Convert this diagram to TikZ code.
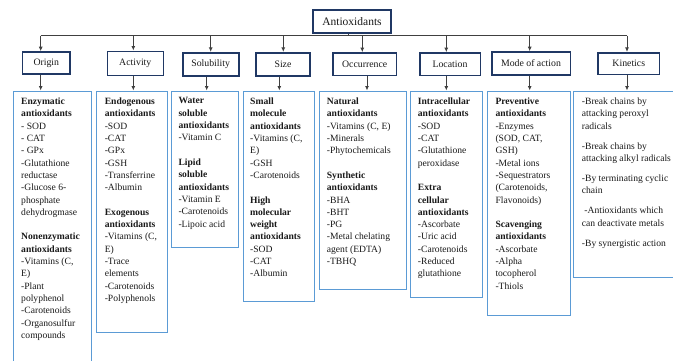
\documentclass[tikz,border=0pt]{standalone}
\usepackage{fontspec}
\setmainfont{Liberation Serif}
\usetikzlibrary{arrows.meta}
\definecolor{navy}{HTML}{203864}
\definecolor{lblue}{HTML}{5B9BD5}
\definecolor{conncol}{HTML}{404040}
\definecolor{ink}{HTML}{1A1A1A}
\begin{document}
\begin{tikzpicture}[x=1pt,y=-1pt,
  catbox/.style={draw=navy, line width=1.6pt, fill=white, inner sep=0pt, font=\fontsize{9.8}{11}\selectfont, text=ink},
  cbox/.style={draw=lblue, line width=1.2pt, inner sep=0pt, anchor=north west},
  txt/.style={inner sep=0pt, anchor=north west, align=left, font=\fontsize{9.6}{12.33}\selectfont, text=ink},
  connline/.style={draw=conncol, line width=0.9pt},
  arr/.style={connline, -{Latex[length=4.5pt,width=4pt]}}]
\useasboundingbox (0,0) rectangle (673,360);
\clip (0,0) rectangle (673,360);
\fill[white] (0,0) rectangle (673,360);

% title and categories
\node[catbox, font=\fontsize{11.5}{13}\selectfont, minimum width=78pt, minimum height=23pt] (title) at (352,21.5) {Antioxidants};
\node[catbox, minimum width=47.3pt, minimum height=22pt] (origin) at (46.3,63) {Origin};
\node[catbox, minimum width=56pt, minimum height=24pt] (activity) at (135.3,63.3) {Activity};
\node[catbox, minimum width=56pt, minimum height=23pt] (solubility) at (210.7,64.2) {Solubility};
\node[catbox, minimum width=54pt, minimum height=23pt] (size) at (283,64.2) {Size};
\node[catbox, minimum width=63.3pt, minimum height=22.7pt] (occurrence) at (364.7,64.3) {Occurrence};
\node[catbox, minimum width=60.6pt, minimum height=22.7pt] (location) at (450,64.3) {Location};
\node[catbox, minimum width=78.6pt, minimum height=23pt] (mode) at (531,63.5) {Mode of action};
\node[catbox, minimum width=61.7pt, minimum height=21.6pt] (kinetics) at (628.8,63.5) {Kinetics};

% content boxes
\node[cbox, minimum width=78pt, minimum height=280pt] (c1) at (12.7,90.5) {};
\node[cbox, minimum width=70.7pt, minimum height=241.5pt] (c2) at (96,90.5) {};
\node[cbox, minimum width=67.3pt, minimum height=156.5pt] (c3) at (170.7,90.5) {};
\node[cbox, minimum width=71.3pt, minimum height=210.5pt] (c4) at (242.7,90.5) {};
\node[cbox, minimum width=86.7pt, minimum height=198.5pt] (c5) at (319,90.5) {};
\node[cbox, minimum width=72pt, minimum height=206.5pt] (c6) at (410,90.5) {};
\node[cbox, minimum width=82.5pt, minimum height=224.5pt] (c7) at (487,90.5) {};
\node[cbox, minimum width=110pt, minimum height=186.5pt] (c8) at (573,90.5) {};

% texts
\node[txt] (t1) at ([shift={(8.3,7)}]c1.north west) {\textbf{Enzymatic}\\\textbf{antioxidants}\\- SOD\\- CAT\\- GPx\\-Glutathione\\reductase\\-Glucose 6-\\phosphate\\dehydrogmase\\[12.33pt]\textbf{Nonenzymatic}\\\textbf{antioxidants}\\-Vitamins (C,\\E)\\-Plant\\polyphenol\\-Carotenoids\\-Organosulfur\\compounds};
\node[txt] (t2) at ([shift={(8.6,7)}]c2.north west) {\textbf{Endogenous}\\\textbf{antioxidants}\\-SOD\\-CAT\\-GPx\\-GSH\\-Transferrine\\-Albumin\\[12.33pt]\textbf{Exogenous}\\\textbf{antioxidants}\\-Vitamins (C,\\E)\\-Trace\\elements\\-Carotenoids\\-Polyphenols};
\node[txt] (t3) at ([shift={(7.6,7)}]c3.north west) {\textbf{Water}\\\textbf{soluble}\\\textbf{antioxidants}\\-Vitamin C\\[12.33pt]\textbf{Lipid}\\\textbf{soluble}\\\textbf{antioxidants}\\-Vitamin E\\-Carotenoids\\-Lipoic acid};
\node[txt] (t4) at ([shift={(7.3,7)}]c4.north west) {\textbf{Small}\\\textbf{molecule}\\\textbf{antioxidants}\\-Vitamins (C,\\E)\\-GSH\\-Carotenoids\\[12.33pt]\textbf{High}\\\textbf{molecular}\\\textbf{weight}\\\textbf{antioxidants}\\-SOD\\-CAT\\-Albumin};
\node[txt] (t5) at ([shift={(7.7,7)}]c5.north west) {\textbf{Natural}\\\textbf{antioxidants}\\-Vitamins (C, E)\\-Minerals\\-Phytochemicals\\[12.33pt]\textbf{Synthetic}\\\textbf{antioxidants}\\-BHA\\-BHT\\-PG\\-Metal chelating\\agent (EDTA)\\-TBHQ};
\node[txt] (t6) at ([shift={(7.7,7)}]c6.north west) {\textbf{Intracellular}\\\textbf{antioxidants}\\-SOD\\-CAT\\-Glutathione\\peroxidase\\[12.33pt]\textbf{Extra}\\\textbf{cellular}\\\textbf{antioxidants}\\-Ascorbate\\-Uric acid\\-Carotenoids\\-Reduced\\glutathione};
\node[txt] (t7) at ([shift={(8.3,7)}]c7.north west) {\textbf{Preventive}\\\textbf{antioxidants}\\-Enzymes\\(SOD, CAT,\\GSH)\\-Metal ions\\-Sequestrators\\(Carotenoids,\\Flavonoids)\\[12.33pt]\textbf{Scavenging}\\\textbf{antioxidants}\\-Ascorbate\\-Alpha\\tocopherol\\-Thiols};
\node[txt] (t8) at ([shift={(8.7,7)}]c8.north west) {-Break chains by\\attacking peroxyl\\radicals\\[7.7pt]-Break chains by\\attacking alkyl radicals\\[7.7pt]-By terminating cyclic\\chain\\[7.7pt]\hspace*{2.5pt}-Antioxidants which\\can deactivate metals\\[7.7pt]-By synergistic action};

% connectors
\coordinate (stem) at (348,35.7);
\coordinate (b1) at (40.7,35.7);
\coordinate (b2) at (133.3,35.7);
\coordinate (b3) at (210.7,35.7);
\coordinate (b4) at (283.3,35.7);
\coordinate (b5) at (362.3,35.7);
\coordinate (b6) at (446.3,35.7);
\coordinate (b7) at (529.7,35.7);
\coordinate (b8) at (627,35.7);
\coordinate (d1) at (40.7,0);
\coordinate (d2) at (133.3,0);
\coordinate (d3) at (206.7,0);
\coordinate (d4) at (279.3,0);
\coordinate (d5) at (367,0);
\coordinate (d6) at (446.3,0);
\coordinate (d7) at (529.7,0);
\coordinate (d8) at (627,0);

\draw[connline] (title.south -| stem) -- (stem);
\draw[connline] (b1) -- (b8);
\draw[arr] (b1) -- (b1 |- origin.north);
\draw[arr] (b2) -- (b2 |- activity.north);
\draw[arr] (b3) -- (b3 |- solubility.north);
\draw[arr] (b4) -- (b4 |- size.north);
\draw[arr] (b5) -- (b5 |- occurrence.north);
\draw[arr] (b6) -- (b6 |- location.north);
\draw[arr] (b7) -- (b7 |- mode.north);
\draw[arr] (b8) -- (b8 |- kinetics.north);

\draw[arr] (origin.south -| d1) -- (d1 |- c1.north);
\draw[arr] (activity.south -| d2) -- (d2 |- c2.north);
\draw[arr] (solubility.south -| d3) -- (d3 |- c3.north);
\draw[arr] (size.south -| d4) -- (d4 |- c4.north);
\draw[arr] (occurrence.south -| d5) -- (d5 |- c5.north);
\draw[arr] (location.south -| d6) -- (d6 |- c6.north);
\draw[arr] (mode.south -| d7) -- (d7 |- c7.north);
\draw[arr] (kinetics.south -| d8) -- (d8 |- c8.north);
\end{tikzpicture}
\end{document}
